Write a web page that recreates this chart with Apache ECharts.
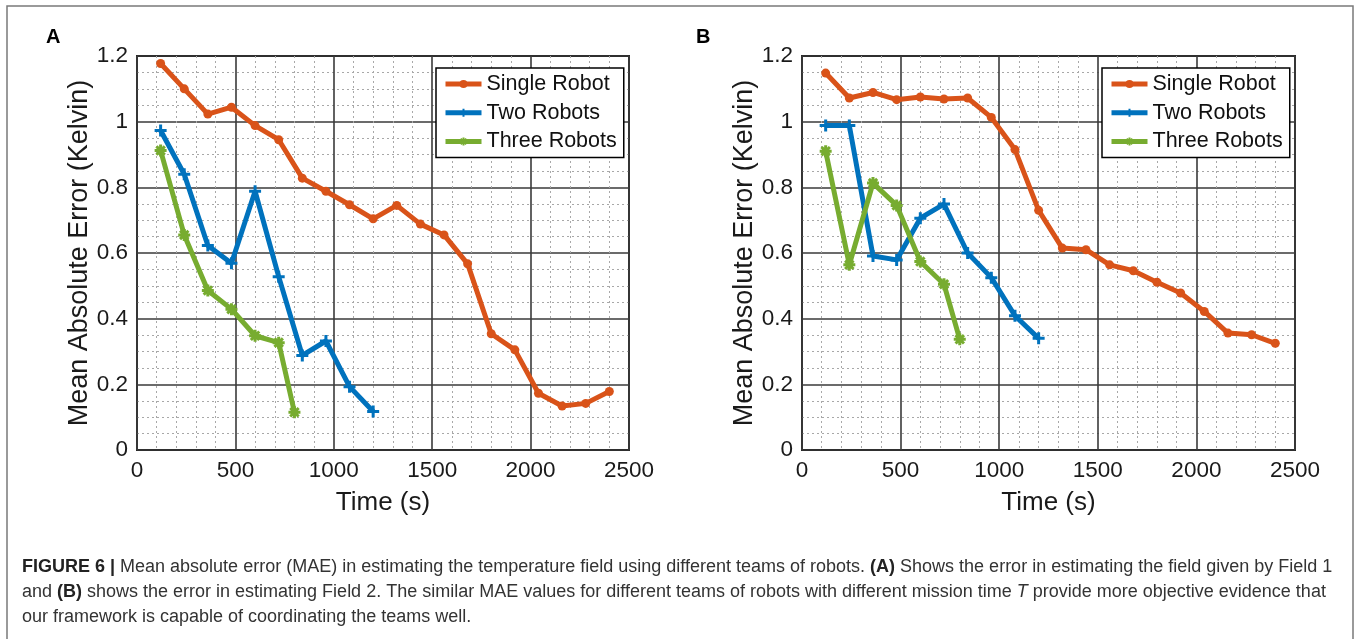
<!DOCTYPE html>
<html>
<head>
<meta charset="utf-8">
<script src="https://cdn.jsdelivr.net/npm/echarts@6/dist/echarts.min.js"></script>
<style>
  html, body { margin: 0; padding: 0; background: #fff; }
  #chart { width: 1358px; height: 639px; }
</style>
</head>
<body>
<div id="chart"></div>
<script>
// Mission times (s) at which the error was evaluated for each team size
const timesSingle = [120, 240, 360, 480, 600, 720, 840, 960, 1080, 1200, 1320, 1440, 1560, 1680, 1800, 1920, 2040, 2160, 2280, 2400];
const timesTwo = [120, 240, 360, 480, 600, 720, 840, 960, 1080, 1200];
const timesThree = [120, 240, 360, 480, 600, 720, 800];

// Field 1 (panel A): mean absolute error, Kelvin
const singleA = [1.177, 1.100, 1.023, 1.044, 0.988, 0.945, 0.828, 0.788, 0.747, 0.704, 0.745, 0.688, 0.655, 0.567, 0.354, 0.305, 0.173, 0.134, 0.142, 0.178];
const twoA = [0.973, 0.840, 0.623, 0.569, 0.788, 0.528, 0.288, 0.332, 0.193, 0.117];
const threeA = [0.912, 0.655, 0.486, 0.429, 0.348, 0.327, 0.115];

// Field 2 (panel B): mean absolute error, Kelvin
const singleB = [1.148, 1.072, 1.089, 1.067, 1.075, 1.069, 1.072, 1.013, 0.915, 0.730, 0.615, 0.610, 0.564, 0.546, 0.511, 0.478, 0.422, 0.356, 0.351, 0.325];
const twoB = [0.988, 0.988, 0.591, 0.579, 0.706, 0.749, 0.600, 0.525, 0.409, 0.340];
const threeB = [0.910, 0.564, 0.813, 0.745, 0.574, 0.505, 0.337];

const seriesNames = ['Single Robot', 'Two Robots', 'Three Robots'];
const panelLabels = ['A', 'B'];
const xTicks = { min: 0, max: 2500, step: 500 };
const yTicks = { min: 0, max: 1.2, step: 0.2 };
const xTitle = 'Time (s)';
const yTitle = 'Mean Absolute Error (Kelvin)';

const COLORS = ['#D95319', '#0072BD', '#77AC30'];
const FONT = '"Liberation Sans", Arial, Helvetica, sans-serif';
const PLUS = 'path://M5,0L5,10M0,5L10,5';
const STAR = 'path://M5,0L5,10M0,5L10,5M1.5,1.5L8.5,8.5M1.5,8.5L8.5,1.5';

const pairs = (xs, ys) => xs.map((x, i) => [x, ys[i]]);

const grids = [
  { left: 137, top: 56, width: 492, height: 394 },
  { left: 802, top: 56, width: 493, height: 394 }
];

function makeX(gi) {
  return {
    type: 'value', gridIndex: gi,
    min: xTicks.min, max: xTicks.max, interval: xTicks.step,
    name: xTitle, nameLocation: 'middle', nameGap: 40,
    nameTextStyle: { fontSize: 26, color: '#1a1a1a', fontFamily: FONT },
    axisLine: { show: false }, axisTick: { show: false },
    axisLabel: { fontSize: 22.5, color: '#1a1a1a', fontFamily: FONT, margin: 9, formatter: v => String(v) },
    splitLine: { show: true, lineStyle: { color: '#3a3a3a', width: 1.6 } },
    minorTick: { show: false, splitNumber: 5 },
    minorSplitLine: { show: true, lineStyle: { color: '#a8a8a8', width: 1, type: [2, 3] } }
  };
}
function makeY(gi) {
  return {
    type: 'value', gridIndex: gi,
    min: yTicks.min, max: yTicks.max, interval: yTicks.step,
    name: yTitle, nameLocation: 'middle', nameGap: 42, nameRotate: 90,
    nameTextStyle: { fontSize: 27, color: '#1a1a1a', fontFamily: FONT },
    axisLine: { show: false }, axisTick: { show: false },
    axisLabel: { fontSize: 22.5, color: '#1a1a1a', fontFamily: FONT, margin: 9, formatter: v => String(+v.toFixed(2)) },
    splitLine: { show: true, lineStyle: { color: '#3a3a3a', width: 1.6 } },
    minorTick: { show: false, splitNumber: 4 },
    minorSplitLine: { show: true, lineStyle: { color: '#a8a8a8', width: 1, type: [2, 3] } }
  };
}

function makeSeries(gi, data) {
  const symbols = ['circle', PLUS, STAR];
  const sizes = [9, 12, 12];
  return data.map((d, k) => ({
    name: seriesNames[k], type: 'line', xAxisIndex: gi, yAxisIndex: gi,
    data: d, symbol: symbols[k], symbolSize: sizes[k], showSymbol: true,
    lineStyle: { color: COLORS[k], width: 5 },
    itemStyle: { color: COLORS[k], borderColor: COLORS[k], borderWidth: k === 0 ? 0 : 3 },
    emphasis: { disabled: true }, z: 3 + k
  }));
}

function makeLegend(left) {
  return {
    left: left, top: 68, orient: 'vertical',
    itemWidth: 36, itemHeight: 10, itemGap: 6.7,
    padding: [5, 7, 5, 7],
    borderColor: '#000', borderWidth: 1.5, backgroundColor: '#fff',
    lineStyle: { width: 5 },
    textStyle: { fontSize: 21.5, lineHeight: 20, color: '#111', fontFamily: FONT },
    data: seriesNames
  };
}

const captionLines = [
  '{b|FIGURE 6 |} Mean absolute error (MAE) in estimating the temperature field using different teams of robots. {b|(A)} Shows the error in estimating the field given by Field 1',
  'and {b|(B)} shows the error in estimating Field 2. The similar MAE values for different teams of robots with different mission time {i|T} provide more objective evidence that',
  'our framework is capable of coordinating the teams well.'
];
const captionY = [567, 592, 617];
const CAP = 18;

const chart = echarts.init(document.getElementById('chart'), null, { renderer: 'canvas' });
chart.setOption({
  animation: false,
  backgroundColor: '#fff',
  grid: grids.map(g => Object.assign({ show: true, borderColor: '#111', borderWidth: 1.8, backgroundColor: '#fff' }, g)),
  xAxis: [makeX(0), makeX(1)],
  yAxis: [makeY(0), makeY(1)],
  legend: [makeLegend(436), makeLegend(1102)],
  series: [
    ...makeSeries(0, [pairs(timesSingle, singleA), pairs(timesTwo, twoA), pairs(timesThree, threeA)]),
    ...makeSeries(1, [pairs(timesSingle, singleB), pairs(timesTwo, twoB), pairs(timesThree, threeB)])
  ],
  graphic: [
    { type: 'rect', silent: true, z: 0, shape: { x: 7, y: 6, width: 1346, height: 700 },
      style: { fill: 'none', stroke: '#7a7a7a', lineWidth: 1.5 } },
    { type: 'text', left: 46, top: 27, style: { text: panelLabels[0], font: 'bold 20px ' + FONT, fill: '#000' } },
    { type: 'text', left: 696, top: 27, style: { text: panelLabels[1], font: 'bold 20px ' + FONT, fill: '#000' } },
    ...captionLines.map((t, i) => ({
      type: 'text', x: 22, y: captionY[i],
      style: {
        text: t, fontSize: CAP, fontFamily: FONT, fill: '#333', verticalAlign: 'middle',
        rich: {
          b: { fontWeight: 'bold', fontSize: CAP, fontFamily: FONT, fill: '#222' },
          i: { fontStyle: 'italic', fontSize: CAP, fontFamily: FONT, fill: '#333' }
        }
      }
    }))
  ]
});
</script>
</body>
</html>
